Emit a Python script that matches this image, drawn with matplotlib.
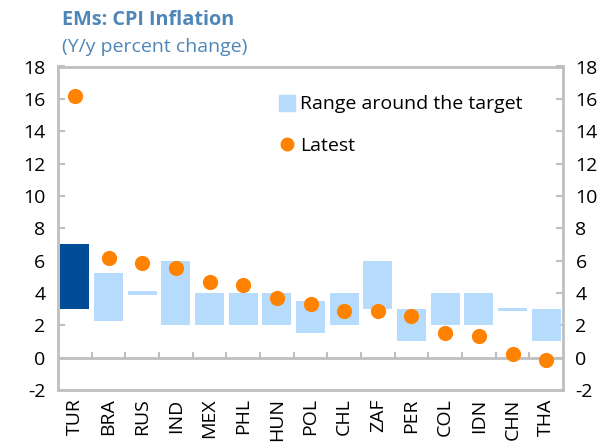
import matplotlib
matplotlib.use("Agg")
import matplotlib.pyplot as plt
from matplotlib.lines import Line2D
import numpy as np

plt.rcParams['font.family'] = ['Open Sans', 'DejaVu Sans']

countries = ["TUR", "BRA", "RUS", "IND", "MEX", "PHL", "HUN", "POL", "CHL", "ZAF", "PER", "COL", "IDN", "CHN", "THA"]
range_low = [3.0, 2.25, 3.9, 2.0, 2.0, 2.0, 2.0, 1.5, 2.0, 3.0, 1.0, 2.0, 2.0, 2.9, 1.0]
range_high = [7.0, 5.25, 4.1, 6.0, 4.0, 4.0, 4.0, 3.5, 4.0, 6.0, 3.0, 4.0, 4.0, 3.1, 3.0]
latest = [16.15, 6.15, 5.83, 5.55, 4.7, 4.52, 3.66, 3.32, 2.88, 2.88, 2.56, 1.5, 1.32, 0.22, -0.14]
yticks = [-2, 0, 2, 4, 6, 8, 10, 12, 14, 16, 18]

light_blue = "#B7DBFC"
dark_blue = "#004C97"
orange = "#FF8200"
gray = "#BFBFBF"
title_col = "#4F86B8"

fig = plt.figure(figsize=(6.07, 4.43), dpi=100)
ax = fig.add_axes([58/607, 53/443, 505/607, 323.5/443])

x = np.arange(len(countries))
heights = np.array(range_high) - np.array(range_low)
colors = [dark_blue] + [light_blue] * (len(countries) - 1)
ax.bar(x, heights, bottom=range_low, width=0.86, color=colors, zorder=2)
ax.scatter(x, latest, s=120, color=orange, zorder=3, linewidths=0)

ax.set_xlim(-0.5, len(countries) - 0.5)
ax.set_ylim(-2, 18)
ax.set_yticks(yticks)
ax.set_yticklabels([str(t) for t in yticks])
ax.set_xticks(x)
ax.set_xticklabels(countries, rotation=90, fontsize=14)
ax.tick_params(axis='x', length=0, pad=6)
ax.tick_params(axis='y', direction='in', length=5, width=1.5, color=gray,
               right=True, labelright=True, labelsize=14, pad=9)

# zero line with boundary ticks
ax.axhline(0, color=gray, lw=2, zorder=1)
ax.vlines(x[:-1] + 0.5, 0, 0.38, color=gray, lw=1.5, zorder=1)

for s in ax.spines.values():
    s.set_color(gray)
    s.set_linewidth(2)

handles = [Line2D([], [], marker='s', color=light_blue, linestyle='None', markersize=12),
           Line2D([], [], marker='o', color=orange, linestyle='None', markersize=9)]
ax.legend(handles, ["Range around the target", "Latest"], loc='upper left',
          bbox_to_anchor=(0.40, 0.965), frameon=False, fontsize=14,
          labelspacing=1.2, handletextpad=0.15, handlelength=1.0)

fig.text(62/607, 1 - 20/443, "EMs: CPI Inflation", color=title_col, fontsize=14.3,
         fontweight='bold', va='center', ha='left')
fig.text(62/607, 1 - 47/443, "(Y/y percent change)", color=title_col, fontsize=14,
         va='center', ha='left')

fig.savefig("out.png", dpi=100)
